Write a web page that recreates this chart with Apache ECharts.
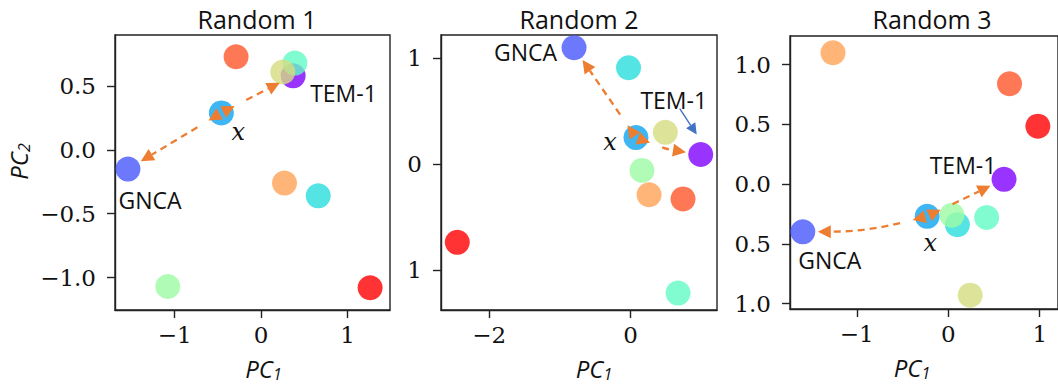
<!DOCTYPE html>
<html><head><meta charset="utf-8">
<script src="https://cdn.jsdelivr.net/npm/echarts@6/dist/echarts.min.js"></script>
<style>html,body{margin:0;padding:0;background:#fff}#c{width:1058px;height:387px}</style>
</head><body><div id="c"></div>
<script>
// ---- data ----
const titles = ['Random 1', 'Random 2', 'Random 3'];
const pointNames = ['TEM-1', 'GNCA', 'x', 'p3', 'p4', 'p5', 'p6', 'p7', 'p8', 'p9'];
const pointColors = ['rgba(128,0,255,0.8)', 'rgba(71,87,251,0.8)', 'rgba(14,164,240,0.8)', 'rgba(42,221,221,0.8)', 'rgba(98,251,196,0.8)',
  'rgba(156,251,164,0.8)', 'rgba(212,221,128,0.8)', 'rgba(255,162,86,0.8)', 'rgba(255,86,44,0.8)', 'rgba(255,0,0,0.8)'];

const p1x = [0.37, -1.54, -0.46, 0.66, 0.39, -1.08, 0.25, 0.27, -0.29, 1.26];
const p1y = [0.58, -0.15, 0.29, -0.36, 0.68, -1.07, 0.61, -0.26, 0.73, -1.08];
const p2x = [0.99, -0.80, 0.075, -0.03, 0.67, 0.16, 0.49, 0.26, 0.74, -2.45];
const p2y = [0.09, 1.10, 0.25, 0.91, -1.22, -0.06, 0.30, -0.29, -0.33, -0.74];
const p3x = [0.61, -1.59, -0.23, 0.10, 0.42, 0.04, 0.24, -1.26, 0.67, 0.98];
const p3y = [0.04, -0.40, -0.27, -0.34, -0.28, -0.26, -0.93, 1.10, 0.84, 0.485];

const xTickValues = [[-1, 0, 1], [-2, 0], [-1, 0, 1]];
const xTickLabels = [['\u22121', '0', '1'], ['\u22122', '0'], ['\u22121', '0', '1']];
const yTickValues = [[-1, -0.5, 0, 0.5], [-1, 0, 1], [-1, -0.5, 0, 0.5, 1]];
const yTickLabels = [['\u22121.0', '\u22120.5', '0.0', '0.5'], ['1', '0', '1'], ['1.0', '0.5', '0.0', '0.5', '1.0']];

// arrows: pairs of point indices [from, to]
const arrowPairs = [[2, 1], [2, 0]];
// ---- layout / style ----
const grids = [
  {left: 115, top: 35, width: 275, height: 275},
  {left: 441, top: 35, width: 276, height: 275},
  {left: 790, top: 36, width: 276, height: 273}
];
const xRanges = [[-1.69, 1.49], [-2.68, 1.22], [-1.73, 1.2]];
const yRanges = [[-1.254, 0.90], [-1.38, 1.22], [-1.046, 1.24]];
const curves = [[0, 0], [0, 0.05], [-0.06, 0]];
const titleCenters = [252, 574, 927];
const xNamePad = [[0, 0, 0, 22], [0, 0, 0, 30], [0, 24, 0, 0]];
const labelOffsets = [
  {0: ['left', 17, 17], 1: ['center', 22, 31], 2: ['center', 17, 19]},
  {0: ['center', -27, -55], 1: ['right', -17, 4], 2: ['center', -26, 4]},
  {0: ['center', -41, -14], 1: ['center', 27, 28], 2: ['center', 3, 27]}
];
const ORANGE = '#ED7D31';
const BLUE = '#4472C4';
const INK = '#111';

const panels = [[p1x, p1y], [p2x, p2y], [p3x, p3y]];

function head(tx, ty, dx, dy, len, hw) {
  const px = -dy, py = dx;
  const bx = tx - dx * len, by = ty - dy * len;
  return [[tx, ty], [bx + px * hw, by + py * hw], [bx - px * hw, by - py * hw]];
}

function arrowRender(params, api) {
  const a = api.coord([api.value(0), api.value(1)]);
  const b = api.coord([api.value(2), api.value(3)]);
  const curv = api.value(4);
  const shrink = 15, len = 13, hw = 6.5;
  const dx = b[0] - a[0], dy = b[1] - a[1];
  const d = Math.hypot(dx, dy);
  const ux = dx / d, uy = dy / d;
  const mx = (a[0] + b[0]) / 2 - uy * d * curv, my = (a[1] + b[1]) / 2 + ux * d * curv;
  let sx = a[0] - mx, sy = a[1] - my; const sd = Math.hypot(sx, sy); sx /= sd; sy /= sd;
  let ex = b[0] - mx, ey = b[1] - my; const ed = Math.hypot(ex, ey); ex /= ed; ey /= ed;
  const tipA = [a[0] - sx * shrink, a[1] - sy * shrink];
  const tipB = [b[0] - ex * shrink, b[1] - ey * shrink];
  const baseA = [tipA[0] - sx * len, tipA[1] - sy * len];
  const baseB = [tipB[0] - ex * len, tipB[1] - ey * len];
  return {
    type: 'group',
    children: [
      {type: 'bezierCurve', shape: {x1: baseA[0], y1: baseA[1], x2: baseB[0], y2: baseB[1], cpx1: mx, cpy1: my},
        style: {stroke: ORANGE, lineWidth: 2.3, lineDash: [7, 5], fill: null}},
      {type: 'polygon', shape: {points: head(tipA[0], tipA[1], -sx, -sy, len, hw)}, style: {fill: ORANGE}},
      {type: 'polygon', shape: {points: head(tipB[0], tipB[1], ex, ey, len, hw)}, style: {fill: ORANGE}}
    ]
  };
}

function blueArrowRender(params, api) {
  const p = api.coord([api.value(0), api.value(1)]);
  const s = [p[0] - 21, p[1] - 46], t = [p[0] - 4, p[1] - 20];
  let dx = t[0] - s[0], dy = t[1] - s[1]; const d = Math.hypot(dx, dy); dx /= d; dy /= d;
  const len = 11, hw = 5.5;
  return {
    type: 'group',
    children: [
      {type: 'line', shape: {x1: s[0], y1: s[1], x2: t[0] - dx * len, y2: t[1] - dy * len}, style: {stroke: BLUE, lineWidth: 1.4}},
      {type: 'polygon', shape: {points: head(t[0], t[1], dx, dy, len, hw)}, style: {fill: BLUE}}
    ]
  };
}

const nameRich = {
  a: {fontFamily: 'Open Sans', fontStyle: 'italic', fontSize: 24, color: INK},
  b: {fontFamily: 'Open Sans', fontStyle: 'italic', fontSize: 16, color: INK, padding: [12, 0, 0, 0]}
};

const option = {
  animation: false,
  backgroundColor: '#fff',
  title: titles.map((t, i) => ({
    text: t, left: titleCenters[i], top: 1, textAlign: 'center',
    textStyle: {fontFamily: 'Open Sans', fontSize: 25, fontWeight: 'normal', color: INK}
  })),
  grid: grids.map(g => Object.assign({show: true, borderColor: '#222', borderWidth: 1.4, backgroundColor: 'transparent', containLabel: false}, g)),
  xAxis: grids.map((g, i) => ({
    gridIndex: i, type: 'value', min: xRanges[i][0], max: xRanges[i][1],
    name: '{a|PC}{b|1}', nameLocation: 'middle', nameGap: 44,
    nameTextStyle: {rich: nameRich, padding: xNamePad[i]},
    splitLine: {show: false},
    axisLine: {show: true, onZero: false, lineStyle: {color: '#222', width: 1.4}},
    axisTick: {show: true, length: 8, inside: false, lineStyle: {color: '#222', width: 1.4}, customValues: xTickValues[i]},
    axisLabel: {customValues: xTickValues[i], margin: 13, fontFamily: 'DejaVu Serif', fontSize: 23, color: INK,
      formatter: v => { const k = xTickValues[i].findIndex(t => Math.abs(t - v) < 1e-9); return k >= 0 ? xTickLabels[i][k] : ''; }}
  })),
  yAxis: grids.map((g, i) => ({
    gridIndex: i, type: 'value', min: yRanges[i][0], max: yRanges[i][1],
    name: i === 0 ? '{a|PC}{b|2}' : '', nameLocation: 'middle', nameGap: 83, nameRotate: 90,
    nameTextStyle: {rich: nameRich, padding: [0, 0, 0, 22]},
    splitLine: {show: false},
    axisLine: {show: true, onZero: false, lineStyle: {color: '#222', width: 1.4}},
    axisTick: {show: true, length: 8, inside: false, lineStyle: {color: '#222', width: 1.4}, customValues: yTickValues[i]},
    axisLabel: {customValues: yTickValues[i], margin: 19, fontFamily: 'DejaVu Serif', fontSize: 23, color: INK,
      formatter: v => { const k = yTickValues[i].findIndex(t => Math.abs(t - v) < 1e-9); return k >= 0 ? yTickLabels[i][k] : ''; }}
  })),
  series: []
};

panels.forEach(([xs, ys], i) => {
  option.series.push({
    type: 'scatter', xAxisIndex: i, yAxisIndex: i, symbolSize: 25, z: 2,
    itemStyle: {opacity: 1},
    data: xs.map((x, k) => {
      const item = {value: [x, ys[k]], name: pointNames[k], itemStyle: {color: pointColors[k], opacity: 1}};
      const lo = labelOffsets[i][k];
      if (lo) {
        const isX = pointNames[k] === 'x';
        item.label = {
          show: true, formatter: pointNames[k], position: 'inside', align: lo[0], verticalAlign: 'middle',
          offset: [lo[1], lo[2]], color: INK, textBorderWidth: 0, textBorderColor: 'transparent',
          fontFamily: isX ? 'DejaVu Serif' : 'Open Sans', fontStyle: isX ? 'italic' : 'normal',
          fontSize: isX ? 24 : 23
        };
      }
      return item;
    })
  });
  option.series.push({
    type: 'custom', xAxisIndex: i, yAxisIndex: i, z: 3, clip: false,
    renderItem: arrowRender,
    data: arrowPairs.map(([a, b], j) => [xs[a], ys[a], xs[b], ys[b], curves[i][j]])
  });
});
option.series.push({
  type: 'custom', xAxisIndex: 1, yAxisIndex: 1, z: 3, clip: false,
  renderItem: blueArrowRender,
  data: [[p2x[0], p2y[0]]]
});

const chart = echarts.init(document.getElementById('c'), null, {renderer: 'svg'});
chart.setOption(option);
</script></body></html>
